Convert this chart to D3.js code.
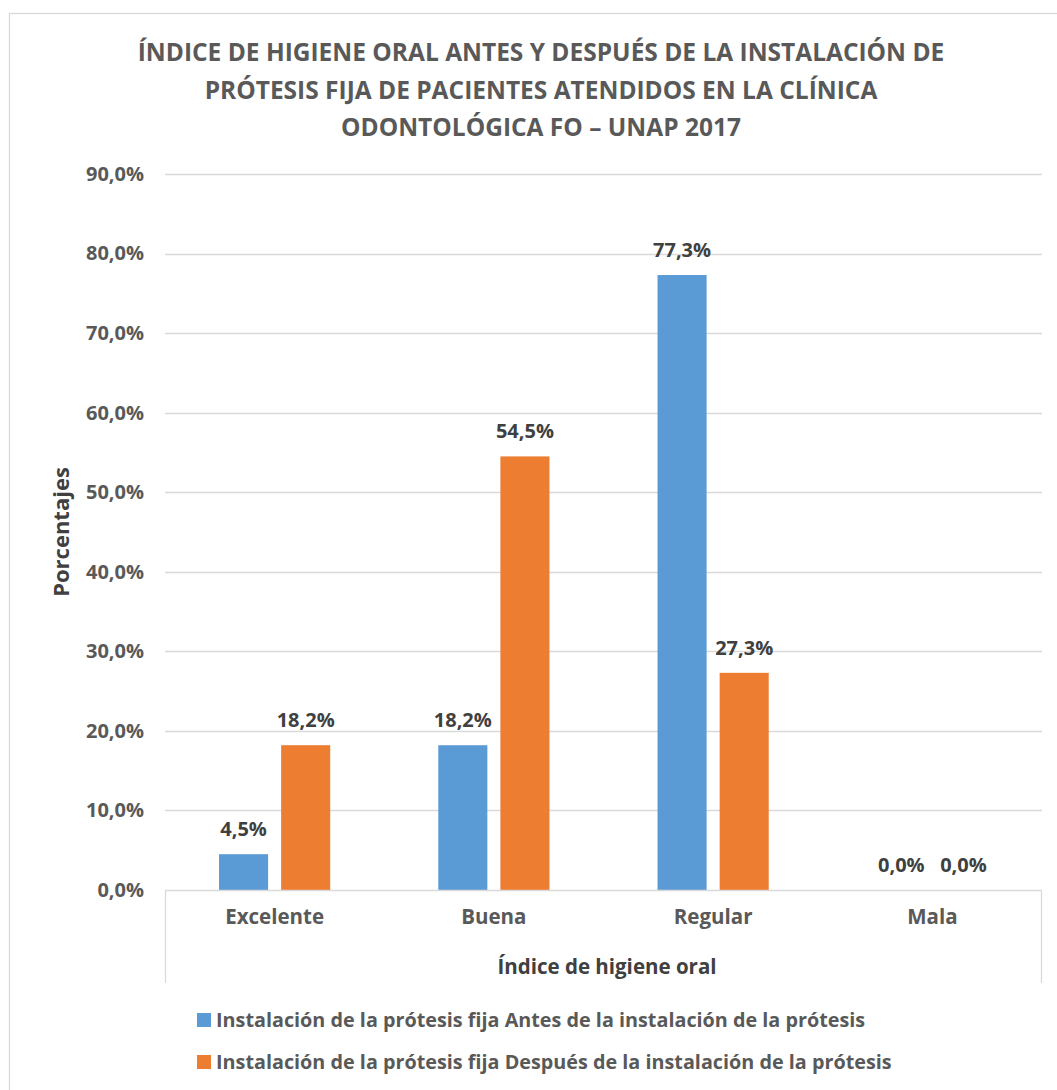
<!DOCTYPE html>
<html>
<head>
<meta charset="utf-8">
<script src="https://cdn.jsdelivr.net/npm/d3@7"></script>
<style>
  html, body { margin: 0; padding: 0; background: #fff; }
  svg { display: block; font-family: "Open Sans", "DejaVu Sans", sans-serif; }
</style>
</head>
<body>
<svg id="chart" width="1057" height="1090"></svg>
<script>
const categories = ["Excelente", "Buena", "Regular", "Mala"];
const seriesNames = [
  "Instalación de la prótesis fija Antes de la instalación de la prótesis",
  "Instalación de la prótesis fija Después de la instalación de la prótesis"
];
const antes = [4.5, 18.2, 77.3, 0.0];
const despues = [18.2, 54.5, 27.3, 0.0];
const yTicks = [0, 10, 20, 30, 40, 50, 60, 70, 80, 90];
const titleLines = [
  "ÍNDICE DE HIGIENE ORAL ANTES Y DESPUÉS DE LA INSTALACIÓN DE",
  "PRÓTESIS FIJA DE PACIENTES ATENDIDOS EN LA CLÍNICA",
  "ODONTOLÓGICA FO – UNAP 2017"
];
const colors = ["#5B9BD5", "#ED7D31"];

const svg = d3.select("#chart");
const W = 1057, H = 1090;
const plot = { left: 165, right: 1042, top: 174, bottom: 890 };
const fmt = v => v.toFixed(1).replace(".", ",") + "%";

// chart frame
svg.append("rect")
  .attr("x", 9.5).attr("y", 13.5)
  .attr("width", W + 10).attr("height", H)
  .attr("fill", "#fff").attr("stroke", "#d9d9d9").attr("stroke-width", 1.3);

// title
svg.append("g").selectAll("text").data(titleLines).join("text")
  .attr("x", 541).attr("y", (d, i) => 61 + i * 37.5)
  .attr("text-anchor", "middle")
  .attr("fill", "#595959").attr("font-weight", "bold").attr("font-size", 24.5)
  .text(d => d);

const x = d3.scaleBand().domain(categories).range([plot.left, plot.right]);
const x1 = d3.scaleBand().domain([0, 1]).range([0, x.bandwidth()])
  .paddingInner(0.21).paddingOuter(0.87);
const y = d3.scaleLinear().domain([0, 90]).range([plot.bottom, plot.top]);

// gridlines
svg.append("g").selectAll("line").data(yTicks.filter(t => t > 0)).join("line")
  .attr("x1", plot.left).attr("x2", plot.right)
  .attr("y1", d => Math.round(y(d)) + 0.5).attr("y2", d => Math.round(y(d)) + 0.5)
  .attr("stroke", "#d9d9d9").attr("stroke-width", 1.3);

// y axis labels
const yAxis = svg.append("g")
  .attr("transform", `translate(${plot.left},0)`)
  .call(d3.axisLeft(y).tickValues(yTicks).tickFormat(fmt).tickSize(0).tickPadding(21));
yAxis.select(".domain").remove();
yAxis.selectAll("text")
  .attr("fill", "#595959").attr("font-weight", "bold").attr("font-size", 20)
  .attr("font-family", "'Open Sans', sans-serif");

// bars and value labels
const series = [antes, despues];
const groups = svg.append("g").selectAll("g").data(series).join("g")
  .attr("fill", (d, i) => colors[i]);
groups.each(function (vals, si) {
  const g = d3.select(this);
  g.selectAll("rect").data(vals).join("rect")
    .attr("x", (d, i) => x(categories[i]) + x1(si))
    .attr("width", x1.bandwidth())
    .attr("y", d => y(d))
    .attr("height", d => plot.bottom - y(d));
  g.selectAll("text").data(vals).join("text")
    .attr("x", (d, i) => x(categories[i]) + x1(si) + x1.bandwidth() / 2)
    .attr("y", d => y(d) - 18)
    .attr("text-anchor", "middle")
    .attr("fill", "#404040").attr("font-weight", "bold").attr("font-size", 20)
    .text(d => fmt(d));
});

// x axis frame
const axisG = svg.append("g").attr("stroke", "#d9d9d9").attr("stroke-width", 1.3);
axisG.append("line").attr("x1", plot.left).attr("x2", plot.right)
  .attr("y1", plot.bottom + 0.5).attr("y2", plot.bottom + 0.5);
axisG.append("line").attr("x1", plot.left + 0.5).attr("x2", plot.left + 0.5)
  .attr("y1", plot.bottom).attr("y2", 983);
axisG.append("line").attr("x1", plot.right - 0.5).attr("x2", plot.right - 0.5)
  .attr("y1", plot.bottom).attr("y2", 983);

// category labels
const xAxis = svg.append("g")
  .attr("transform", `translate(0,${plot.bottom})`)
  .call(d3.axisBottom(x).tickSize(0).tickPadding(19));
xAxis.select(".domain").remove();
xAxis.selectAll("text")
  .attr("fill", "#595959").attr("font-weight", "bold").attr("font-size", 20.5)
  .attr("font-family", "'Open Sans', sans-serif");

// axis titles
svg.append("text")
  .attr("x", 607).attr("y", 974)
  .attr("text-anchor", "middle")
  .attr("fill", "#404040").attr("font-weight", "bold").attr("font-size", 20.5)
  .text("Índice de higiene oral");
svg.append("text")
  .attr("transform", "translate(69,532) rotate(-90)")
  .attr("text-anchor", "middle")
  .attr("fill", "#404040").attr("font-weight", "bold").attr("font-size", 22)
  .text("Porcentajes");

// legend
const legend = svg.append("g").selectAll("g").data(seriesNames).join("g")
  .attr("transform", (d, i) => `translate(197,${1013 + i * 42})`);
legend.append("rect").attr("width", 14).attr("height", 14)
  .attr("fill", (d, i) => colors[i]);
legend.append("text").attr("x", 19).attr("y", 14)
  .attr("fill", "#595959").attr("font-weight", "bold").attr("font-size", 19.8)
  .text(d => d);
</script>
</body>
</html>
